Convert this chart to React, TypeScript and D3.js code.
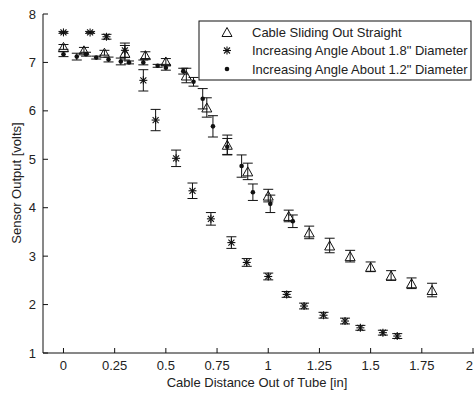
import React from "react";
import * as d3 from "d3";

const xTicks = [0, 0.25, 0.5, 0.75, 1, 1.25, 1.5, 1.75, 2];
const xTickLabels = ["0", "0.25", "0.5", "0.75", "1", "1.25", "1.5", "1.75", "2"];
const yTicks = [1, 2, 3, 4, 5, 6, 7, 8];

const seriesNames = [
  "Cable Sliding Out Straight",
  'Increasing Angle About 1.8" Diameter',
  'Increasing Angle About 1.2" Diameter',
];

// Cable Sliding Out Straight (triangles)
const straightX = [0, 0.1, 0.2, 0.3, 0.4, 0.5, 0.6, 0.7, 0.8, 0.9, 1.0, 1.1, 1.2, 1.3, 1.4, 1.5, 1.6, 1.7, 1.8];
const straightY = [7.32, 7.25, 7.2, 7.2, 7.15, 7.02, 6.73, 6.07, 5.3, 4.75, 4.25, 3.83, 3.49, 3.22, 3.0, 2.78, 2.6, 2.44, 2.3];
const straightErr = [0.05, 0.06, 0.05, 0.15, 0.07, 0.06, 0.15, 0.2, 0.2, 0.17, 0.13, 0.12, 0.13, 0.15, 0.12, 0.1, 0.1, 0.11, 0.14];

// 1.8" diameter (stars)
const d18X = [0, 0.13, 0.21, 0.3, 0.39, 0.45, 0.55, 0.63, 0.72, 0.82, 0.895, 1.0, 1.09, 1.175, 1.27, 1.375, 1.45, 1.56, 1.63];
const d18Y = [7.62, 7.62, 7.53, 7.25, 6.63, 5.81, 5.02, 4.35, 3.77, 3.28, 2.87, 2.58, 2.21, 1.97, 1.78, 1.66, 1.52, 1.42, 1.35];
const d18Err = [0.02, 0.02, 0.05, 0.15, 0.22, 0.22, 0.17, 0.16, 0.13, 0.12, 0.08, 0.07, 0.06, 0.06, 0.06, 0.06, 0.05, 0.05, 0.05];

// 1.2" diameter (dots)
const d12X = [0, 0.065, 0.11, 0.16, 0.22, 0.28, 0.32, 0.39, 0.46, 0.5, 0.585, 0.635, 0.68, 0.73, 0.8, 0.87, 0.925, 1.01, 1.12];
const d12Y = [7.17, 7.12, 7.17, 7.1, 7.06, 7.02, 7.0, 7.0, 6.93, 6.89, 6.82, 6.6, 6.25, 5.68, 5.26, 4.86, 4.32, 4.08, 3.72];
const d12Err = [0.05, 0.07, 0.04, 0.03, 0.05, 0.07, 0.03, 0.05, 0.03, 0.05, 0.06, 0.09, 0.21, 0.22, 0.17, 0.23, 0.17, 0.18, 0.13];

const W = 474;
const H = 393;
const left = 43;
const right = 473;
const top = 14;
const bottom = 353;

const x = d3.scaleLinear().domain([-0.1, 2]).range([left, right]);
const y = d3.scaleLinear().domain([1, 8]).range([bottom, top]);

const FONT = "'Liberation Sans', Arial, Helvetica, sans-serif";
const INK = "#111";
const TXT = "#222";
const FS = 13;
const CAP = 5;

function ErrorBar({ cx, lo, hi }: { cx: number; lo: number; hi: number }) {
  return (
    <g stroke={INK} strokeWidth={1} fill="none">
      <line x1={cx} x2={cx} y1={lo} y2={hi} />
      <line x1={cx - CAP} x2={cx + CAP} y1={lo} y2={lo} />
      <line x1={cx - CAP} x2={cx + CAP} y1={hi} y2={hi} />
    </g>
  );
}

function Triangle({ cx, cy }: { cx: number; cy: number }) {
  const w = 5, h = 4.5;
  return (
    <path
      d={`M${cx},${cy - h} L${cx + w},${cy + h} L${cx - w},${cy + h} Z`}
      fill="none"
      stroke={INK}
      strokeWidth={1}
    />
  );
}

function Star({ cx, cy }: { cx: number; cy: number }) {
  const r = 4, d = 3;
  return (
    <g stroke={INK} strokeWidth={1.1}>
      <line x1={cx - r} x2={cx + r} y1={cy} y2={cy} />
      <line x1={cx} x2={cx} y1={cy - r} y2={cy + r} />
      <line x1={cx - d} x2={cx + d} y1={cy - d} y2={cy + d} />
      <line x1={cx - d} x2={cx + d} y1={cy + d} y2={cy - d} />
    </g>
  );
}

function Dot({ cx, cy }: { cx: number; cy: number }) {
  return <circle cx={cx} cy={cy} r={2.3} fill={INK} />;
}

export default function App() {
  const renderSeries = (
    xs: number[],
    ys: number[],
    errs: number[],
    Marker: (p: { cx: number; cy: number }) => React.ReactElement,
    key: string
  ) =>
    xs.map((xv, i) => {
      const cx = x(xv);
      const cy = y(ys[i]);
      return (
        <g key={key + i}>
          <ErrorBar cx={cx} lo={y(ys[i] - errs[i])} hi={y(ys[i] + errs[i])} />
          <Marker cx={cx} cy={cy} />
        </g>
      );
    });

  const legendX = 199;
  const legendY = 21;
  const legendW = 272;
  const legendH = 59;
  const rowYs = [32, 50.5, 69];
  const Markers = [Triangle, Star, Dot];

  return (
    <svg
      width={W}
      height={H}
      style={{ position: "absolute", left: 0, top: 0, background: "#fff" }}
      fontFamily={FONT}
    >
      <rect x={0} y={0} width={W} height={H} fill="#fff" />
      {/* axes */}
      <line x1={left} x2={left} y1={top} y2={bottom} stroke={INK} strokeWidth={1} />
      <line x1={left} x2={W} y1={bottom} y2={bottom} stroke={INK} strokeWidth={1} />
      {xTicks.map((t, i) => {
        const last = i === xTicks.length - 1;
        return (
          <g key={"xt" + i}>
            <line x1={x(t)} x2={x(t)} y1={bottom} y2={bottom - 5} stroke={INK} />
            <text
              x={last ? W - 1 : x(t)}
              y={bottom + 17}
              textAnchor={last ? "end" : "middle"}
              fontSize={FS}
              fill={TXT}
            >
              {xTickLabels[i]}
            </text>
          </g>
        );
      })}
      {yTicks.map((t, i) => (
        <g key={"yt" + i}>
          <line x1={left} x2={left + 5} y1={y(t)} y2={y(t)} stroke={INK} />
          <text x={left - 7} y={y(t) + 4.5} textAnchor="end" fontSize={FS} fill={TXT}>
            {t}
          </text>
        </g>
      ))}
      <text x={257} y={387} textAnchor="middle" fontSize={FS} fill={TXT}>
        Cable Distance Out of Tube [in]
      </text>
      <text
        transform={`translate(21,183) rotate(-90)`}
        textAnchor="middle"
        fontSize={FS}
        fill={TXT}
      >
        Sensor Output [volts]
      </text>

      {/* data */}
      {renderSeries(straightX, straightY, straightErr, Triangle, "s")}
      {renderSeries(d18X, d18Y, d18Err, Star, "a")}
      {renderSeries(d12X, d12Y, d12Err, Dot, "b")}

      {/* legend */}
      <rect x={legendX} y={legendY} width={legendW} height={legendH} fill="#fff" stroke={INK} strokeWidth={1} />
      {seriesNames.map((name, i) => {
        const M = Markers[i];
        return (
          <g key={"lg" + i}>
            <M cx={227} cy={rowYs[i]} />
            <text x={252} y={rowYs[i] + 4.5} fontSize={FS} fill={TXT}>
              {name}
            </text>
          </g>
        );
      })}
    </svg>
  );
}
